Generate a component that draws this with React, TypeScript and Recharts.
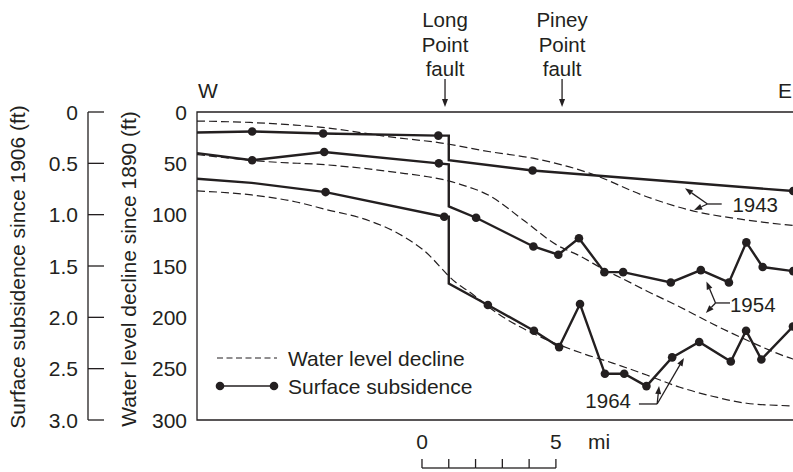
import {
  ComposedChart,
  Line,
  XAxis,
  YAxis,
  ReferenceArea,
  ReferenceLine,
  ReferenceDot,
  Legend,
} from "recharts";

const INK = "#231f20";
const FONT = "'Liberation Sans', Arial, Helvetica, sans-serif";

const CHART_W = 820;
const CHART_H = 472;
const MARGIN_RIGHT = 15;
const SUB_AXIS_W = 88;
const WL_AXIS_W = 109;

// distance along the section in miles (0 = left end of scale bar)
const X_MIN = -8.4;
const X_MAX = 14.3;
const PX_PER_MI =
  (CHART_W - MARGIN_RIGHT - SUB_AXIS_W - WL_AXIS_W) / (X_MAX - X_MIN);

const declineTicks = [0, 50, 100, 150, 200, 250, 300];
const subsidenceTicks = [0, 0.5, 1.0, 1.5, 2.0, 2.5, 3.0];
const scaleTicks = [0, 1, 2, 3, 4, 5];

const faults = [
  { mi: 0.86, name: ["Long", "Point", "fault"] },
  { mi: 5.23, name: ["Piney", "Point", "fault"] },
];

// surface subsidence since 1906 (ft): [mi, ft, measured station 1/0]
const sub1943 = [
  [-8.4, 0.2, 0],
  [-6.34, 0.19, 1],
  [-3.69, 0.21, 1],
  [0.61, 0.23, 1],
  [1.0, 0.23, 0],
  [1.0, 0.47, 0],
  [4.13, 0.57, 1],
  [13.86, 0.77, 1],
];

const sub1954 = [
  [-8.4, 0.4, 0],
  [-6.34, 0.47, 1],
  [-3.65, 0.39, 1],
  [0.63, 0.5, 1],
  [1.0, 0.51, 0],
  [1.0, 0.92, 0],
  [2.02, 1.03, 1],
  [4.16, 1.31, 1],
  [5.09, 1.39, 1],
  [5.86, 1.23, 1],
  [6.81, 1.56, 1],
  [7.51, 1.56, 1],
  [9.29, 1.66, 1],
  [10.41, 1.54, 1],
  [11.46, 1.66, 1],
  [12.11, 1.27, 1],
  [12.72, 1.51, 1],
  [13.86, 1.55, 1],
];

const sub1964 = [
  [-8.4, 0.65, 0],
  [-6.36, 0.69, 0],
  [-3.6, 0.78, 1],
  [0.83, 1.02, 1],
  [1.0, 1.02, 0],
  [1.0, 1.67, 0],
  [2.46, 1.88, 1],
  [4.18, 2.13, 1],
  [5.12, 2.29, 1],
  [5.9, 1.87, 1],
  [6.83, 2.55, 1],
  [7.55, 2.55, 1],
  [8.38, 2.67, 1],
  [9.34, 2.39, 1],
  [10.35, 2.24, 1],
  [11.53, 2.43, 1],
  [12.1, 2.13, 1],
  [12.67, 2.41, 1],
  [13.85, 2.09, 1],
];

// water level decline since 1890 (ft): [mi, ft]
const wl1943 = [
  [-8.4, 8.8],
  [-6.42, 10.2],
  [-4.74, 12.7],
  [-3.51, 15.6],
  [-1.19, 24.3],
  [0.67, 30],
  [2.54, 38.7],
  [4.14, 45],
  [6.27, 59.7],
  [8.39, 82.5],
  [9.99, 95.5],
  [12.11, 105.2],
  [13.85, 110.5],
  [14.3, 111.5],
];

const wl1954 = [
  [-8.4, 41.5],
  [-5.75, 48.4],
  [-3.51, 51.6],
  [-1.19, 58.1],
  [1.3, 69.4],
  [2.54, 81.8],
  [3.78, 105.2],
  [5.03, 129.5],
  [5.9, 140.3],
  [6.83, 153.9],
  [7.51, 162.6],
  [8.39, 174.3],
  [9.63, 189.9],
  [10.86, 206.5],
  [12.12, 222.1],
  [13.85, 240.6],
  [14.3, 244],
];

const wl1964 = [
  [-8.4, 76.9],
  [-6.36, 80.8],
  [-4.74, 87.4],
  [-3.5, 95.5],
  [-2.25, 103.5],
  [-1.01, 116.6],
  [0.05, 134.4],
  [1.3, 166.8],
  [1.67, 173.4],
  [2.91, 197.7],
  [4.41, 218.9],
  [5.9, 234.3],
  [7.15, 244.8],
  [8.39, 256.2],
  [9.63, 268.1],
  [10.88, 277.1],
  [12.12, 283.7],
  [13.86, 286.4],
  [14.3, 287],
];

// year call-outs, in (mi, decline ft)
const callouts = [
  { year: "1943", at: [12.44, 90.6], bar: [[11.19, 89.6], [10.66, 89.6]], tips: [[9.82, 74.3], [10.16, 95.5]] },
  { year: "1954", at: [12.35, 188.0], bar: [[11.5, 186.0], [10.96, 186.0]], tips: [[10.62, 165.1], [10.6, 195.8]] },
  { year: "1964", at: [6.95, 281.5], bar: [[8.1, 284.4], [8.78, 284.4]], tips: [[8.85, 266.9], [9.78, 239.6]] },
];

const toRows = (rows: number[][]) => rows.map(([mi, v, st]) => ({ mi, v, st }));

function StationDot(props: any) {
  const { cx, cy, payload, index } = props;
  if (!payload.st) return <g key={`n-${index}`} />;
  return <circle key={`d-${index}`} cx={cx} cy={cy} r={4.3} fill={INK} />;
}

function Arrow(props: any) {
  const { x1, y1, x2, y2, head } = props;
  const len = Math.hypot(x2 - x1, y2 - y1) || 1;
  const ux = (x2 - x1) / len;
  const uy = (y2 - y1) / len;
  const bx = x2 - ux * 8;
  const by = y2 - uy * 8;
  return (
    <g>
      <line x1={x1} y1={y1} x2={head ? bx : x2} y2={head ? by : y2} stroke={INK} strokeWidth={1.3} />
      {head && (
        <polygon
          points={`${x2},${y2} ${bx - uy * 3},${by + ux * 3} ${bx + uy * 3},${by - ux * 3}`}
          fill={INK}
        />
      )}
    </g>
  );
}

function SubTick({ x, y, payload }: any) {
  const v = payload.value;
  return (
    <g>
      <line x1={x} y1={y} x2={x + 16} y2={y} stroke={INK} strokeWidth={1.3} />
      <text x={x - 10} y={y} dy="0.36em" textAnchor="end" fontSize={21} fill={INK}>
        {v === 0 ? "0" : v.toFixed(1)}
      </text>
    </g>
  );
}

function DeclineTick({ x, y, payload }: any) {
  return (
    <text x={x - 10} y={y} dy="0.36em" textAnchor="end" fontSize={21} fill={INK}>
      {payload.value}
    </text>
  );
}

function TopTick({ x, y, payload }: any) {
  const v = payload.value;
  if (v === X_MIN)
    return (
      <text x={x + 1} y={y - 14} fontSize={21} fill={INK}>
        W
      </text>
    );
  if (v === X_MAX)
    return (
      <text x={x - 13} y={y - 14} textAnchor="end" fontSize={21} fill={INK}>
        E
      </text>
    );
  const f = faults.find((d) => d.mi === v);
  if (!f) return <g />;
  return (
    <g>
      {f.name.map((t, i) => (
        <text key={t + i} x={x} y={y - 84.7 + i * 24.3} textAnchor="middle" fontSize={20.5} fill={INK}>
          {t}
        </text>
      ))}
      <Arrow x1={x} y1={y - 33} x2={x} y2={y - 5} head />
    </g>
  );
}

function ScaleTick({ x, y, payload }: any) {
  const v = payload.value;
  return (
    <g stroke={INK} strokeWidth={1.3}>
      <line x1={x} y1={y + 39} x2={x} y2={y + 48} />
      {v < 5 && <line x1={x} y1={y + 48} x2={x + PX_PER_MI} y2={y + 48} />}
      {(v === 0 || v === 5) && (
        <text x={x} y={y + 29} textAnchor="middle" fontSize={21} fill={INK} stroke="none">
          {v}
        </text>
      )}
      {v === 5 && (
        <text x={x + 32} y={y + 29} fontSize={21} fill={INK} stroke="none">
          mi
        </text>
      )}
    </g>
  );
}

function AxisTitle({ viewBox, text, dx, dy = 0 }: any) {
  const cx = viewBox.x + dx;
  const cy = viewBox.y + viewBox.height / 2 + dy;
  return (
    <text
      x={cx}
      y={cy}
      transform={`rotate(-90 ${cx} ${cy})`}
      textAnchor="middle"
      dominantBaseline="central"
      fontSize={21}
      fill={INK}
    >
      {text}
    </text>
  );
}

function LegendBox() {
  return (
    <svg width={280} height={64}>
      <line x1={7} y1={18} x2={67} y2={18} stroke={INK} strokeWidth={1.2} strokeDasharray="6 3.5" />
      <text x={78} y={18} dy="0.36em" fontSize={21} fill={INK}>
        Water level decline
      </text>
      <line x1={10} y1={46} x2={64} y2={46} stroke={INK} strokeWidth={1.5} />
      <circle cx={10} cy={46} r={4.3} fill={INK} />
      <circle cx={64} cy={46} r={4.3} fill={INK} />
      <text x={78} y={46} dy="0.36em" fontSize={21} fill={INK}>
        Surface subsidence
      </text>
    </svg>
  );
}

export default function App() {
  const solid = [sub1943, sub1954, sub1964];
  const dashed = [wl1943, wl1954, wl1964];
  return (
    <div
      style={{
        position: "fixed",
        left: 0,
        top: 0,
        width: 793,
        height: 472,
        overflow: "hidden",
        background: "#fff",
        fontFamily: FONT,
      }}
    >
      <ComposedChart
        width={CHART_W}
        height={CHART_H}
        margin={{ top: 0, right: MARGIN_RIGHT, bottom: 0, left: 0 }}
      >
        <XAxis
          xAxisId="top"
          orientation="top"
          dataKey="mi"
          type="number"
          domain={[X_MIN, X_MAX]}
          allowDataOverflow
          height={112}
          ticks={[X_MIN, ...faults.map((f) => f.mi), X_MAX]}
          interval={0}
          axisLine={false}
          tickLine={false}
          tickSize={0}
          tickMargin={0}
          tick={<TopTick />}
        />
        <XAxis
          xAxisId="bot"
          dataKey="mi"
          type="number"
          domain={[X_MIN, X_MAX]}
          allowDataOverflow
          height={52}
          ticks={scaleTicks}
          interval={0}
          axisLine={false}
          tickLine={false}
          tickSize={0}
          tickMargin={0}
          tick={<ScaleTick />}
        />
        <YAxis
          yAxisId="decline"
          type="number"
          domain={[0, 300]}
          reversed
          width={WL_AXIS_W}
          ticks={declineTicks}
          interval={0}
          axisLine={false}
          tickLine={false}
          tickSize={0}
          tickMargin={0}
          tick={<DeclineTick />}
          label={<AxisTitle text="Water level decline since 1890 (ft)" dx={40} dy={3} />}
        />
        <YAxis
          yAxisId="subsidence"
          type="number"
          domain={[0, 3]}
          reversed
          width={SUB_AXIS_W}
          ticks={subsidenceTicks}
          interval={0}
          axisLine={{ stroke: INK, strokeWidth: 1.3 }}
          tickLine={false}
          tickSize={0}
          tickMargin={0}
          tick={<SubTick />}
          label={<AxisTitle text="Surface subsidence since 1906 (ft)" dx={17} dy={1} />}
        />
        <ReferenceArea
          xAxisId="bot"
          yAxisId="decline"
          x1={X_MIN}
          x2={X_MAX}
          y1={0}
          y2={300}
          fill="none"
          fillOpacity={0}
          stroke={INK}
          strokeWidth={1.3}
        />
        {dashed.map((rows, i) => (
          <Line
            key={`wl-${i}`}
            data={toRows(rows)}
            dataKey="v"
            xAxisId="top"
            yAxisId="decline"
            type="monotone"
            stroke={INK}
            strokeWidth={1.2}
            strokeDasharray="8 4"
            dot={false}
            activeDot={false}
            isAnimationActive={false}
          />
        ))}
        {solid.map((rows, i) => (
          <Line
            key={`sub-${i}`}
            data={toRows(rows)}
            dataKey="v"
            xAxisId="bot"
            yAxisId="subsidence"
            type="linear"
            stroke={INK}
            strokeWidth={2.4}
            dot={StationDot}
            activeDot={false}
            isAnimationActive={false}
          />
        ))}
        {callouts.map((c) => (
          <ReferenceLine
            key={`bar-${c.year}`}
            xAxisId="bot"
            yAxisId="decline"
            segment={[
              { x: c.bar[0][0], y: c.bar[0][1] },
              { x: c.bar[1][0], y: c.bar[1][1] },
            ]}
            stroke={INK}
            shape={(p: any) => <Arrow {...p} />}
          />
        ))}
        {callouts.flatMap((c) =>
          c.tips.map((t, j) => (
            <ReferenceLine
              key={`tip-${c.year}-${j}`}
              xAxisId="bot"
              yAxisId="decline"
              segment={[
                { x: c.bar[1][0], y: c.bar[1][1] },
                { x: t[0], y: t[1] },
              ]}
              stroke={INK}
              shape={(p: any) => <Arrow {...p} head />}
            />
          ))
        )}
        {callouts.map((c) => (
          <ReferenceDot
            key={`lab-${c.year}`}
            xAxisId="bot"
            yAxisId="decline"
            x={c.at[0]}
            y={c.at[1]}
            r={0}
            stroke="none"
            fill="none"
            label={{ value: c.year, position: "center", fontSize: 20.5, fill: INK }}
          />
        ))}
        <Legend
          layout="vertical"
          align="center"
          verticalAlign="middle"
          wrapperStyle={{ left: 210, top: 340, width: 280 }}
          content={() => <LegendBox />}
        />
      </ComposedChart>
    </div>
  );
}
